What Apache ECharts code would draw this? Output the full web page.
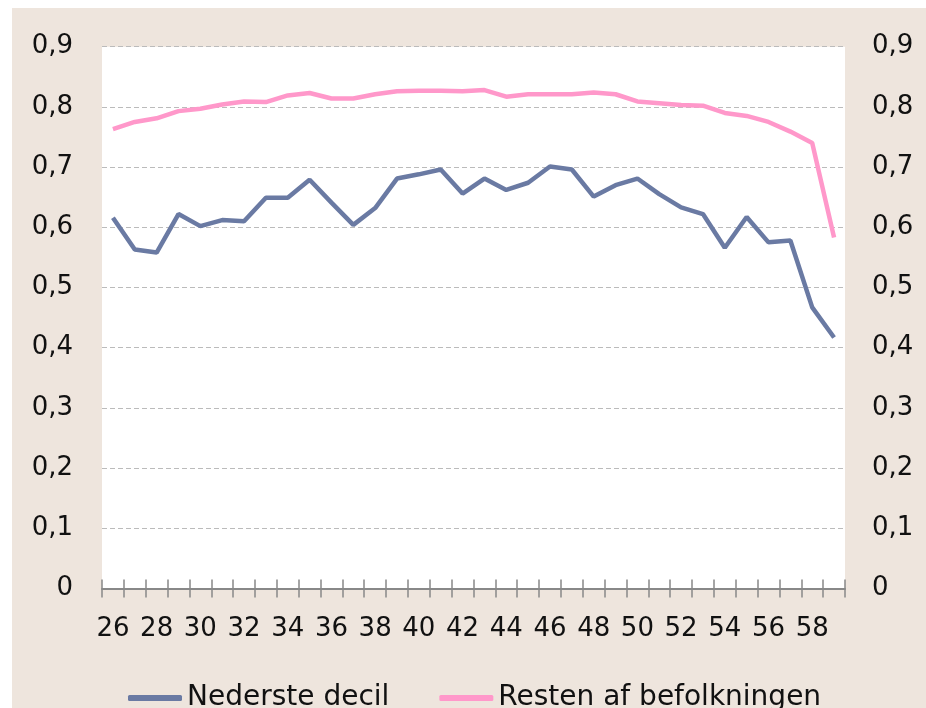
<!DOCTYPE html>
<html>
<head>
<meta charset="utf-8">
<script src="https://cdn.jsdelivr.net/npm/echarts@6/dist/echarts.min.js"></script>
<style>
  html, body { margin: 0; padding: 0; background: #fff; }
  #my_chart { width: 926px; height: 708px; }
</style>
</head>
<body>
<div id="my_chart"></div>
<script>
  // alder
  var ages = ['26','27','28','29','30','31','32','33','34','35','36','37','38','39','40','41','42',
              '43','44','45','46','47','48','49','50','51','52','53','54','55','56','57','58','59'];

  var nedersteDecil = [0.616, 0.563, 0.558, 0.622, 0.602, 0.612, 0.610, 0.649, 0.649, 0.679, 0.641, 0.604,
                       0.632, 0.681, 0.688, 0.696, 0.656, 0.681, 0.662, 0.674, 0.701, 0.696, 0.651, 0.670,
                       0.681, 0.655, 0.633, 0.622, 0.566, 0.617, 0.575, 0.578, 0.467, 0.417];

  var restenAfBefolkningen = [0.763, 0.775, 0.781, 0.793, 0.797, 0.804, 0.809, 0.808, 0.819, 0.823, 0.814, 0.814,
                              0.821, 0.826, 0.827, 0.827, 0.826, 0.828, 0.817, 0.821, 0.821, 0.821, 0.824, 0.821,
                              0.809, 0.806, 0.803, 0.802, 0.790, 0.785, 0.775, 0.759, 0.740, 0.583];

  var seriesNames = ['Nederste decil', 'Resten af befolkningen'];
  var seriesColors = ['#6A7AA3', '#FF98CA'];

  var fontFam = 'DejaVu Sans, Verdana, sans-serif';

  function fmt(v) {
    if (v === 0) return '0';
    return v.toFixed(1).replace('.', ',');
  }

  var my_chart = echarts.init(document.getElementById('my_chart'));

  my_chart.setOption({
    animation: false,
    backgroundColor: '#fff',
    textStyle: { fontFamily: fontFam },
    graphic: [{
      type: 'rect',
      z: -10,
      shape: { x: 12, y: 8, width: 914, height: 700 },
      style: { fill: '#EEE5DD' }
    }],
    grid: {
      left: 102, right: 81, top: 46.7, bottom: 119.5,
      show: true, backgroundColor: '#fff', borderWidth: 0
    },
    legend: {
      left: 123, top: 679,
      icon: 'roundRect',
      itemWidth: 54, itemHeight: 6, itemGap: 50,
      data: seriesNames,
      textStyle: { fontSize: 28, color: '#111', fontFamily: fontFam, lineHeight: 28 }
    },
    xAxis: [{
      type: 'category',
      data: ages,
      boundaryGap: true,
      axisLine: { lineStyle: { color: '#888', width: 2 } },
      axisTick: { show: true, interval: 0, length: 9, lineStyle: { color: '#888', width: 1.5 } },
      axisLabel: { interval: 1, margin: 28, fontSize: 26, color: '#111' },
      splitLine: { show: false }
    }, {
      type: 'category',
      data: ages,
      position: 'bottom',
      boundaryGap: true,
      axisLine: { show: false },
      axisTick: { show: true, inside: true, interval: 0, length: 9, lineStyle: { color: '#888', width: 1.5 } },
      axisLabel: { show: false },
      splitLine: { show: false }
    }],
    yAxis: [{
      type: 'value',
      min: 0, max: 0.9, interval: 0.1,
      axisLine: { show: false },
      axisTick: { show: false },
      axisLabel: { margin: 29, fontSize: 26, color: '#111', formatter: fmt },
      splitLine: { lineStyle: { color: '#BBBBBB', type: [5, 3], width: 1 } }
    }, {
      type: 'value',
      position: 'right',
      min: 0, max: 0.9, interval: 0.1,
      axisLine: { show: false },
      axisTick: { show: false },
      axisLabel: { margin: 27, fontSize: 26, color: '#111', formatter: fmt },
      splitLine: { show: false }
    }],
    series: [{
      name: seriesNames[0],
      type: 'line',
      data: nedersteDecil,
      symbol: 'none',
      color: seriesColors[0],
      lineStyle: { width: 4.5, color: seriesColors[0] }
    }, {
      name: seriesNames[1],
      type: 'line',
      data: restenAfBefolkningen,
      symbol: 'none',
      color: seriesColors[1],
      lineStyle: { width: 4.5, color: seriesColors[1] }
    }]
  });
</script>
</body>
</html>
